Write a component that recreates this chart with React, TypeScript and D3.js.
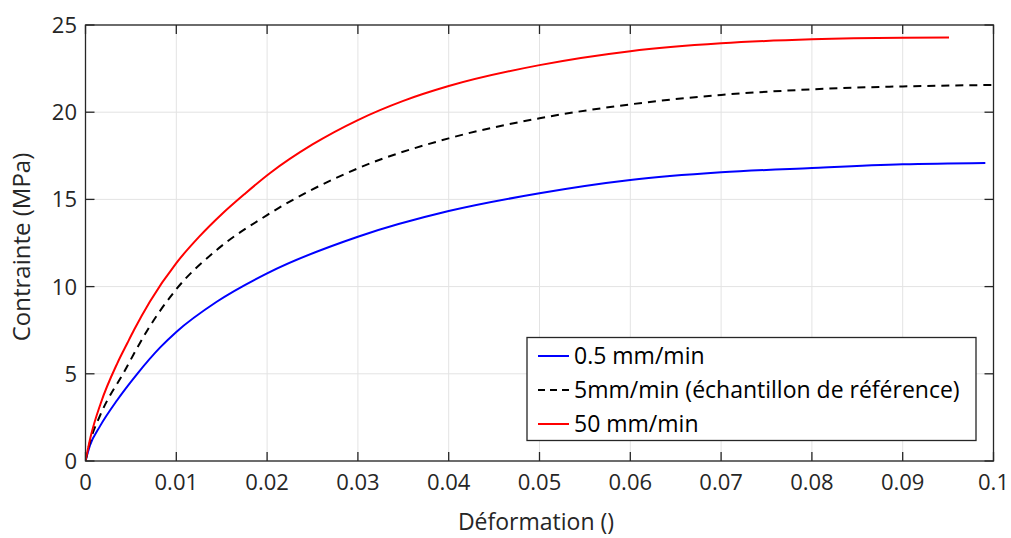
import React from "react";
import * as d3 from "d3";

const xTicks = [0, 0.01, 0.02, 0.03, 0.04, 0.05, 0.06, 0.07, 0.08, 0.09, 0.1];
const yTicks = [0, 5, 10, 15, 20, 25];

const blueX = [0, 0.0005, 0.0016, 0.0035, 0.0057, 0.0082, 0.01, 0.01445, 0.02, 0.03, 0.04, 0.05, 0.06, 0.07, 0.08, 0.09, 0.0991];
const blueY = [0, 0.9, 2.0, 3.5, 5.0, 6.5, 7.4, 9.13, 10.76, 12.86, 14.33, 15.35, 16.11, 16.55, 16.8, 17.01, 17.09];

const blackX = [0, 0.0005, 0.0016, 0.00424, 0.0067, 0.01, 0.01445, 0.02, 0.03, 0.04, 0.05, 0.06, 0.07, 0.08, 0.09, 0.1];
const blackY = [0, 1.1, 2.6, 5.1, 7.4, 9.85, 12.1, 14.1, 16.78, 18.5, 19.65, 20.45, 20.99, 21.31, 21.48, 21.56];

const redX = [0, 0.00057, 0.00167, 0.0035, 0.0046, 0.00534, 0.0071, 0.01, 0.0125, 0.015, 0.0175, 0.0203, 0.025, 0.03, 0.035, 0.04, 0.05, 0.06, 0.07, 0.08, 0.09, 0.0951];
const redY = [0, 1.4, 3.3, 5.6, 6.75, 7.51, 9.15, 11.35, 12.85, 14.15, 15.3, 16.5, 18.15, 19.55, 20.65, 21.5, 22.7, 23.5, 23.95, 24.18, 24.27, 24.28];

const seriesNames = ["0.5 mm/min", "5mm/min (échantillon de référence)", "50 mm/min"];

const W = 1011;
const H = 538;
const L = 85.5, R = 993.5, T = 25, B = 461;
const FONT = "'Open Sans', sans-serif";
const TXT = "#262626";

export default function App() {
  const x = d3.scaleLinear().domain([0, 0.1]).range([L, R]);
  const y = d3.scaleLinear().domain([0, 25]).range([B, T]);
  const line = d3
    .line<[number, number]>()
    .x((d) => x(d[0]))
    .y((d) => y(d[1]))
    .curve(d3.curveMonotoneX);
  const zip = (a: number[], b: number[]) => a.map((v, i) => [v, b[i]] as [number, number]);
  const series = [
    { name: seriesNames[0], pts: zip(blueX, blueY), color: "#0000ff", dash: undefined },
    { name: seriesNames[1], pts: zip(blackX, blackY), color: "#000000", dash: "8 6" },
    { name: seriesNames[2], pts: zip(redX, redY), color: "#ff0000", dash: undefined },
  ];
  const tick = 9;
  const legX = 527, legY = 337.5, legW = 449, legH = 103;
  const rowY = [356, 390, 424];
  return (
    <div style={{ position: "absolute", left: 0, top: 0 }}>
      <svg width={W} height={H} style={{ display: "block", background: "#fff" }}>
        <rect x={0} y={0} width={W} height={H} fill="#fff" />
        {xTicks.map((t, i) => (
          <line key={"gx" + i} x1={x(t)} x2={x(t)} y1={T} y2={B} stroke="#e3e3e3" strokeWidth={1} />
        ))}
        {yTicks.map((t, i) => (
          <line key={"gy" + i} x1={L} x2={R} y1={y(t)} y2={y(t)} stroke="#e3e3e3" strokeWidth={1} />
        ))}
        <defs>
          <clipPath id="clip">
            <rect x={L} y={T - 2} width={R - L} height={B - T + 2} />
          </clipPath>
        </defs>
        <g clipPath="url(#clip)">
          {series.map((s, i) => (
            <path
              key={"s" + i}
              d={line(s.pts) || ""}
              fill="none"
              stroke={s.color}
              strokeWidth={2}
              strokeDasharray={s.dash}
            />
          ))}
        </g>
        {xTicks.map((t, i) => (
          <g key={"tx" + i}>
            <line x1={x(t)} x2={x(t)} y1={B} y2={B - tick} stroke={TXT} strokeWidth={1.3} />
            <line x1={x(t)} x2={x(t)} y1={T} y2={T + tick} stroke={TXT} strokeWidth={1.3} />
            <text x={x(t)} y={490} textAnchor="middle" fontFamily={FONT} fontSize={22} fill={TXT}>
              {String(t)}
            </text>
          </g>
        ))}
        {yTicks.map((t, i) => (
          <g key={"ty" + i}>
            <line x1={L} x2={L + tick} y1={y(t)} y2={y(t)} stroke={TXT} strokeWidth={1.3} />
            <line x1={R} x2={R - tick} y1={y(t)} y2={y(t)} stroke={TXT} strokeWidth={1.3} />
            <text x={77} y={y(t) + 8} textAnchor="end" fontFamily={FONT} fontSize={22} fill={TXT}>
              {String(t)}
            </text>
          </g>
        ))}
        <rect x={L} y={T} width={R - L} height={B - T} fill="none" stroke={TXT} strokeWidth={1.3} />
        <text x={536} y={530} textAnchor="middle" fontFamily={FONT} fontSize={23} fill={TXT}>
          Déformation ()
        </text>
        <text
          transform={`translate(30, ${247}) rotate(-90)`}
          textAnchor="middle"
          fontFamily={FONT}
          fontSize={24}
          fill={TXT}
        >
          Contrainte (MPa)
        </text>
        <rect x={legX} y={legY} width={legW} height={legH} fill="#fff" stroke={TXT} strokeWidth={1.3} />
        {series.map((s, i) => (
          <g key={"lg" + i}>
            <line
              x1={538}
              x2={569}
              y1={rowY[i]}
              y2={rowY[i]}
              stroke={s.color}
              strokeWidth={2}
              strokeDasharray={s.dash ? "7 5" : undefined}
            />
            <text x={574} y={rowY[i] + 8} fontFamily={FONT} fontSize={23} fill="#000">
              {s.name}
            </text>
          </g>
        ))}
      </svg>
    </div>
  );
}
